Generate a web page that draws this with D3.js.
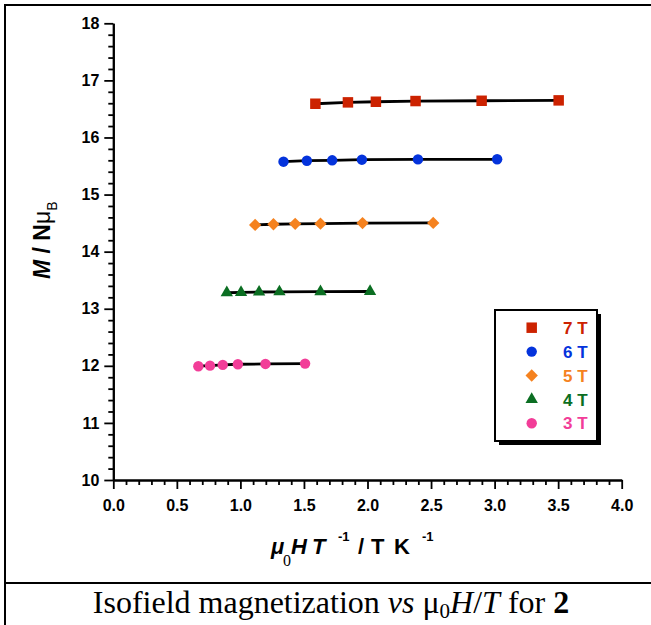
<!DOCTYPE html>
<html>
<head>
<meta charset="utf-8">
<script src="https://cdn.jsdelivr.net/npm/d3@7"></script>
<style>
  html, body { margin: 0; padding: 0; background: #fff; }
  svg { display: block; }
</style>
</head>
<body>
<svg id="chart" width="651" height="625"></svg>
<script>
// Isofield magnetization data: x = μ0H/T (T K^-1), M in Nμ_B
const fields = ["7 T", "6 T", "5 T", "4 T", "3 T"];
const colors = ["#cc2200", "#0433dc", "#f5821f", "#0b6e22", "#f23d98"];
const shapes = ["square", "circle", "diamond", "triangle", "circle"];

const x7 = [1.590, 1.846, 2.066, 2.378, 2.898, 3.504];
const m7 = [16.591, 16.615, 16.626, 16.638, 16.643, 16.650];
const x6 = [1.339, 1.523, 1.722, 1.956, 2.397, 3.020];
const m6 = [15.576, 15.593, 15.600, 15.611, 15.616, 15.618];
const x5 = [1.116, 1.260, 1.431, 1.630, 1.961, 2.517];
const m5 = [14.468, 14.480, 14.487, 14.490, 14.500, 14.503];
const x4 = [0.893, 1.005, 1.147, 1.307, 1.630, 2.020];
const m4 = [13.280, 13.287, 13.293, 13.297, 13.300, 13.302];
const x3 = [0.669, 0.761, 0.861, 0.980, 1.197, 1.509];
const m3 = [11.993, 12.003, 12.016, 12.028, 12.033, 12.039];

const xMajor = [0, 0.5, 1.0, 1.5, 2.0, 2.5, 3.0, 3.5, 4.0];
const yMajor = [10, 11, 12, 13, 14, 15, 16, 17, 18];

const seriesX = [x7, x6, x5, x4, x3];
const seriesM = [m7, m6, m5, m4, m3];

const series = fields.map((f, i) => ({
  name: f,
  color: colors[i],
  shape: shapes[i],
  points: seriesX[i].map((v, j) => ({ x: v, m: seriesM[i][j] }))
}));

const svg = d3.select("#chart");
const sans = "'Liberation Sans', Arial, Helvetica, sans-serif";
const serif = "'Liberation Serif', 'Times New Roman', serif";

// Frame: top and left border, divider above the caption
svg.append("line").attr("x1", 4).attr("x2", 651).attr("y1", 5).attr("y2", 5)
  .attr("stroke", "#000").attr("stroke-width", 2);
svg.append("line").attr("x1", 5).attr("x2", 5).attr("y1", 4).attr("y2", 625)
  .attr("stroke", "#000").attr("stroke-width", 2);
svg.append("line").attr("x1", 5).attr("x2", 651).attr("y1", 583).attr("y2", 583)
  .attr("stroke", "#000").attr("stroke-width", 2);

const x = d3.scaleLinear().domain([0, 4]).range([113.3, 621.7]);
const y = d3.scaleLinear().domain([10, 18]).range([480, 23.3]);

// Minor ticks
const xMinor = d3.range(0, 4.0001, 0.1).filter(v => Math.abs(v * 2 - Math.round(v * 2)) > 1e-6);
const yMinor = d3.range(10, 18.0001, 0.2).filter(v => Math.abs(v - Math.round(v)) > 1e-6);

const gxMinor = svg.append("g").attr("transform", `translate(0,${y(10)})`)
  .call(d3.axisBottom(x).tickValues(xMinor).tickSize(5).tickSizeOuter(0).tickFormat(""));
const gyMinor = svg.append("g").attr("transform", `translate(${x(0)},0)`)
  .call(d3.axisLeft(y).tickValues(yMinor).tickSize(5).tickSizeOuter(0).tickFormat(""));

const gx = svg.append("g").attr("transform", `translate(0,${y(10)})`)
  .call(d3.axisBottom(x).tickValues(xMajor).tickSize(9).tickSizeOuter(0).tickPadding(11)
    .tickFormat(d3.format(".1f")));
const gy = svg.append("g").attr("transform", `translate(${x(0)},0)`)
  .call(d3.axisLeft(y).tickValues(yMajor).tickSize(9).tickSizeOuter(0).tickPadding(5)
    .tickFormat(d3.format("d")));

[gxMinor, gyMinor, gx, gy].forEach(g => {
  g.selectAll("path.domain").attr("stroke", "#000").attr("stroke-width", 2);
  g.selectAll(".tick line").attr("stroke", "#000").attr("stroke-width", 1.8);
});
[gx, gy].forEach(g => {
  g.selectAll(".tick text").attr("fill", "#000")
    .style("font-family", sans).style("font-weight", "bold").style("font-size", "16px");
});

// Connecting lines
const line = d3.line().x(d => x(d.x)).y(d => y(d.m));
svg.append("g").selectAll("path").data(series).join("path")
  .attr("d", d => line(d.points))
  .attr("fill", "none").attr("stroke", "#000").attr("stroke-width", 2.8);

// Marker shapes
function symbolPath(shape) {
  if (shape === "square") return d3.symbol(d3.symbolSquare, 110)();
  if (shape === "circle") return d3.symbol(d3.symbolCircle, 85)();
  if (shape === "diamond") return d3.symbol(d3.symbolSquare, 76)();
  return d3.symbol(d3.symbolTriangle, 66)();
}
function symbolTransform(shape, px, py) {
  return shape === "diamond" ? `translate(${px},${py}) rotate(45)` : `translate(${px},${py})`;
}

series.forEach(s => {
  svg.append("g").selectAll("path").data(s.points).join("path")
    .attr("d", symbolPath(s.shape))
    .attr("transform", d => symbolTransform(s.shape, x(d.x), y(d.m)))
    .attr("fill", s.color);
});

// Legend with drop shadow
const lg = svg.append("g").attr("transform", "translate(495,310)");
lg.append("rect").attr("x", 4).attr("y", 4).attr("width", 102).attr("height", 131).attr("fill", "#000");
lg.append("rect").attr("x", 0).attr("y", 0).attr("width", 102).attr("height", 131)
  .attr("fill", "#fff").attr("stroke", "#000").attr("stroke-width", 2);
series.forEach((s, i) => {
  const cy = 17.7 + i * 23.9;
  lg.append("path").attr("d", symbolPath(s.shape))
    .attr("transform", symbolTransform(s.shape, 36.7, cy)).attr("fill", s.color);
  lg.append("text").attr("x", 68).attr("y", cy).attr("dy", "0.36em")
    .attr("fill", s.color).style("font-family", sans).style("font-weight", "bold")
    .style("font-size", "17px").text(s.name);
});

// Y axis title: M / Nμ_B
const yt = svg.append("text").attr("transform", "translate(50,279) rotate(-90)")
  .attr("text-anchor", "start").style("font-family", sans).style("font-size", "23px")
  .attr("fill", "#000");
yt.append("tspan").style("font-style", "italic").style("font-weight", "bold").text("M");
yt.append("tspan").style("font-weight", "bold").text(" / N");
yt.append("tspan").text("μ");
yt.append("tspan").attr("dy", 7).style("font-size", "14px").text("B");

// X axis title: μ0H T^-1 / T K^-1, pieces placed along the baseline
const xtBase = 554;
const xt = svg.append("g").attr("fill", "#000")
  .style("font-family", sans).style("font-size", "22px").style("font-weight", "bold");
xt.append("text").attr("x", 271).attr("y", xtBase).style("font-style", "italic").text("μ");
xt.append("text").attr("x", 283).attr("y", xtBase + 12).style("font-family", serif)
  .style("font-weight", "normal").style("font-size", "16px").text("0");
xt.append("text").attr("x", 291).attr("y", xtBase).style("font-style", "italic").text("H");
xt.append("text").attr("x", 312).attr("y", xtBase).style("font-style", "italic").text("T");
xt.append("text").attr("x", 338).attr("y", xtBase - 13).style("font-size", "13px").text("-1");
xt.append("text").attr("x", 358).attr("y", xtBase).text("/");
xt.append("text").attr("x", 371).attr("y", xtBase).text("T");
xt.append("text").attr("x", 394).attr("y", xtBase).text("K");
xt.append("text").attr("x", 422).attr("y", xtBase - 13).style("font-size", "13px").text("-1");

// Caption
const cap = svg.append("text").attr("x", 331).attr("y", 613).attr("text-anchor", "middle")
  .style("font-family", serif).style("font-size", "32px").attr("fill", "#000");
cap.append("tspan").text("Isofield magnetization ");
cap.append("tspan").style("font-style", "italic").text("vs");
cap.append("tspan").text(" μ");
cap.append("tspan").attr("dy", 5).style("font-size", "21px").text("0");
cap.append("tspan").attr("dy", -5).style("font-style", "italic").text("H");
cap.append("tspan").text("/");
cap.append("tspan").style("font-style", "italic").text("T");
cap.append("tspan").text(" for ");
cap.append("tspan").style("font-weight", "bold").text("2");
</script>
</body>
</html>
